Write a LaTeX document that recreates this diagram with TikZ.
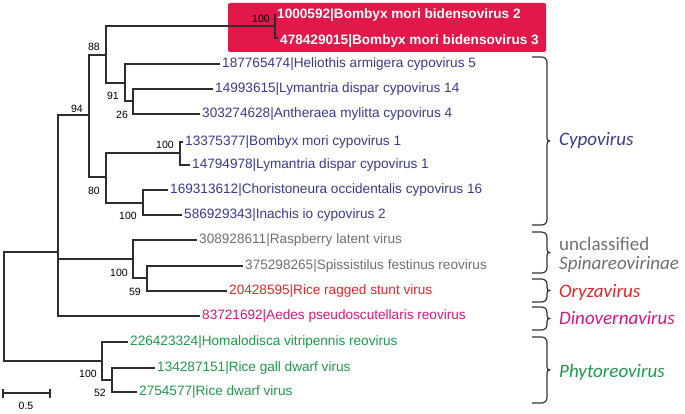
\documentclass[tikz,border=0pt]{standalone}
\usepackage{fontspec}
\setmainfont{Liberation Sans}
\newfontfamily\grpfont{Carlito}
\definecolor{cyp}{HTML}{3C3A8E}
\definecolor{ungray}{HTML}{707070}
\definecolor{oryz}{HTML}{E3262B}
\definecolor{dino}{HTML}{D9157F}
\definecolor{phyto}{HTML}{1E9A4C}
\definecolor{boxred}{HTML}{E2184B}
\definecolor{treeline}{HTML}{2E2E2E}
\newcommand{\vbrace}[3]{%
  \draw[bracestyle] (532,#1) -- (541,#1) .. controls (545,#1) and (547,{#1+2}) .. (547,{#1+6})
    -- (547,{#3-3}) .. controls (547,{#3-1}) and (548,#3) .. (549.5,#3)
    .. controls (548,#3) and (547,{#3+1}) .. (547,{#3+3})
    -- (547,{#2-6}) .. controls (547,{#2-2}) and (545,#2) .. (541,#2) -- (532,#2);}
\begin{document}
\begin{tikzpicture}[x=1pt,y=-1pt,
  br/.style={draw=treeline,line width=1.1pt},
  bracestyle/.style={draw=black!80,line width=1.2pt},
  leaf/.style={anchor=west,inner xsep=2pt,inner ysep=0pt,font=\fontsize{13.6}{16}\selectfont},
  boot/.style={inner sep=0pt,font=\fontsize{10.5}{12}\selectfont},
  grp/.style={anchor=base west,inner sep=0pt,font=\grpfont\fontsize{19}{22}\selectfont}]
\useasboundingbox (0,0) rectangle (685,414);
\fill[white] (0,0) rectangle (685,414);
% red box
\fill[boxred,rounded corners=2pt] (228,3) rectangle (546,52);
% internal nodes
\coordinate (root) at (4,306);
\coordinate (A) at (58,252);
\coordinate (B) at (89,115);
\coordinate (C) at (106,55);
\coordinate (bid) at (275,26);
\coordinate (D) at (125,83);
\coordinate (E) at (133,101);
\coordinate (F) at (106,177);
\coordinate (G) at (180,153);
\coordinate (H) at (143,203);
\coordinate (Sp) at (133,259);
\coordinate (N59) at (147,278);
\coordinate (P) at (102,361);
\coordinate (N52) at (112,380);
% leaf tips
\coordinate (t1) at (275,14);
\coordinate (t2) at (278,38);
\coordinate (t3) at (220,64);
\coordinate (t4) at (213,89);
\coordinate (t5) at (200,114);
\coordinate (t6) at (183,142);
\coordinate (t7) at (190,165);
\coordinate (t8) at (168,190);
\coordinate (t9) at (182,215);
\coordinate (t10) at (197,240);
\coordinate (t11) at (243,266);
\coordinate (t12) at (227,291);
\coordinate (t13) at (200,316);
\coordinate (t14) at (128,342);
\coordinate (t15) at (155,368);
\coordinate (t16) at (137,392);
% branches
\draw[br] (root) |- (A);
\draw[br] (root) |- (P);
\draw[br] (A) |- (B);
\draw[br] (A) |- (Sp);
\draw[br] (A) |- (t13);
\draw[br] (B) |- (C);
\draw[br] (B) |- (F);
\draw[br] (C) |- (bid);
\draw[br] (C) |- (D);
\draw[br] (bid) |- (t1);
\draw[br] (bid) |- (t2);
\draw[br] (D) |- (t3);
\draw[br] (D) |- (E);
\draw[br] (E) |- (t4);
\draw[br] (E) |- (t5);
\draw[br] (F) |- (G);
\draw[br] (F) |- (H);
\draw[br] (G) |- (t6);
\draw[br] (G) |- (t7);
\draw[br] (H) |- (t8);
\draw[br] (H) |- (t9);
\draw[br] (Sp) |- (t10);
\draw[br] (Sp) |- (N59);
\draw[br] (N59) |- (t11);
\draw[br] (N59) |- (t12);
\draw[br] (P) |- (t14);
\draw[br] (P) |- (N52);
\draw[br] (N52) |- (t15);
\draw[br] (N52) |- (t16);
% leaf labels
\node[leaf,text=white,font=\bfseries\fontsize{13.6}{16}\selectfont] (l1) at (t1) [yshift=-1.5pt] {1000592|Bombyx mori bidensovirus 2};
\node[leaf,text=white,font=\bfseries\fontsize{13.6}{16}\selectfont] (l2) at (t2) [yshift=-3pt] {478429015|Bombyx mori bidensovirus 3};
\node[leaf,text=cyp] (l3) at (t3) {187765474|Heliothis armigera cypovirus 5};
\node[leaf,text=cyp] (l4) at (t4) {14993615|Lymantria dispar cypovirus 14};
\node[leaf,text=cyp] (l5) at (t5) {303274628|Antheraea mylitta cypovirus 4};
\node[leaf,text=cyp] (l6) at (t6) {13375377|Bombyx mori cypovirus 1};
\node[leaf,text=cyp] (l7) at (t7) {14794978|Lymantria dispar cypovirus 1};
\node[leaf,text=cyp] (l8) at (t8) {169313612|Choristoneura occidentalis cypovirus 16};
\node[leaf,text=cyp] (l9) at (t9) {586929343|Inachis io cypovirus 2};
\node[leaf,text=ungray] (l10) at (t10) {308928611|Raspberry latent virus};
\node[leaf,text=ungray] (l11) at (t11) {375298265|Spissistilus festinus reovirus};
\node[leaf,text=oryz] (l12) at (t12) {20428595|Rice ragged stunt virus};
\node[leaf,text=dino] (l13) at (t13) {83721692|Aedes pseudoscutellaris reovirus};
\node[leaf,text=phyto] (l14) at (t14) {226423324|Homalodisca vitripennis reovirus};
\node[leaf,text=phyto] (l15) at (t15) {134287151|Rice gall dwarf virus};
\node[leaf,text=phyto] (l16) at (t16) {2754577|Rice dwarf virus};
% bootstrap values
\node[boot] (b1) at (261,19) {100};
\node[boot] (b2) at (94,47) {88};
\node[boot] (b3) at (77,109) {94};
\node[boot] (b4) at (113,96) {91};
\node[boot] (b5) at (122,115) {26};
\node[boot] (b6) at (165,145) {100};
\node[boot] (b7) at (94,191) {80};
\node[boot] (b8) at (128,216) {100};
\node[boot] (b9) at (119,273) {100};
\node[boot] (b10) at (135,292) {59};
\node[boot] (b11) at (88,374) {100};
\node[boot] (b12) at (100,393) {52};
% scale bar
\coordinate (s1) at (3,393);
\coordinate (s2) at (50,393);
\draw[br] (s1) -- (s2);
\draw[br] ([yshift=-4.5pt]s1) -- ([yshift=4.5pt]s1);
\draw[br] ([yshift=-4.5pt]s2) -- ([yshift=4.5pt]s2);
\node[boot] (sl) at (26,406) {0.5};
% braces
\vbrace{57}{225}{141}
\vbrace{232}{273}{252.5}
\vbrace{279}{302}{290.5}
\vbrace{307}{330}{318.5}
\vbrace{337}{403}{370}
% group labels
\node[grp,text=cyp] (g1) at (559,146) {\itshape Cypovirus};
\node[grp,text=ungray] (g2a) at (559,250) {unclassified};
\node[grp,text=ungray] (g2b) at (559,269) {\itshape Spinareovirinae};
\node[grp,text=oryz] (g3) at (559,297) {\itshape Oryzavirus};
\node[grp,text=dino] (g4) at (559,324) {\itshape Dinovernavirus};
\node[grp,text=phyto] (g5) at (559,377) {\itshape Phytoreovirus};
\end{tikzpicture}
\end{document}
